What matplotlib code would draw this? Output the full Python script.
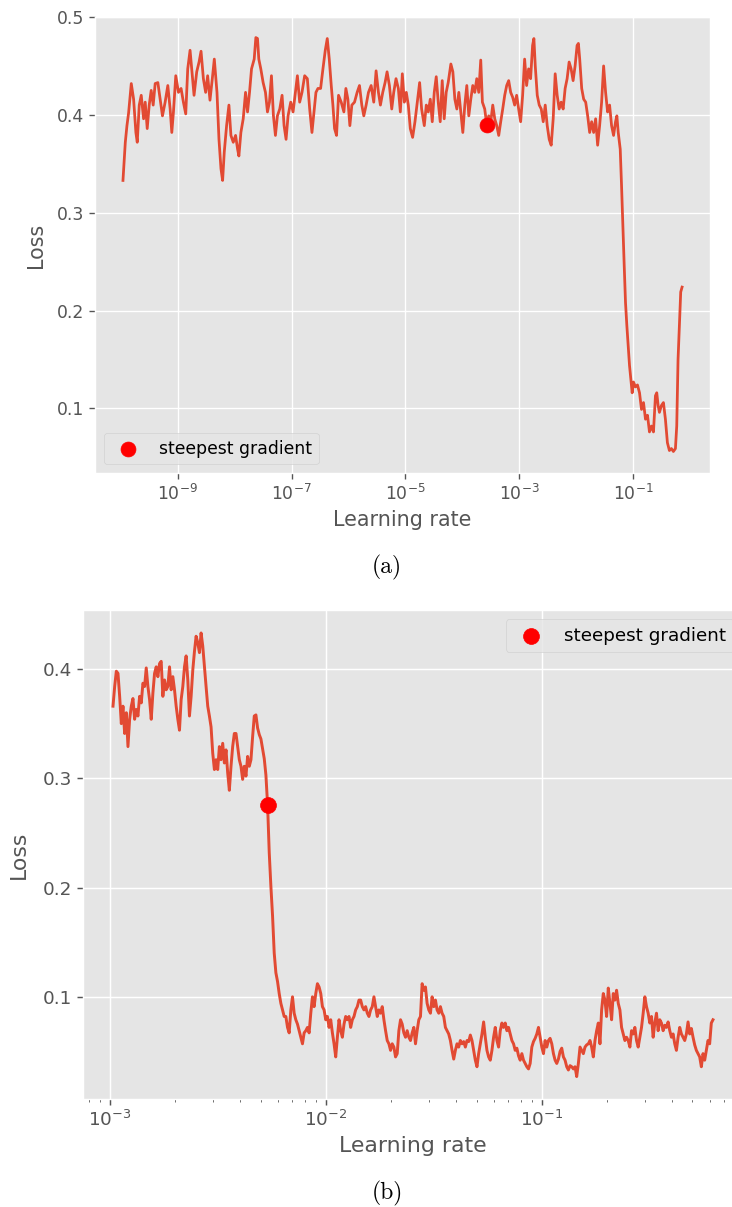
import numpy as np
import matplotlib.pyplot as plt
from matplotlib.ticker import NullLocator, MultipleLocator

plt.style.use('ggplot')

# --- run (a): wide sweep, log10(learning rate) and smoothed loss ---
log_lr_a = [
    -9.963, -9.922, -9.893, -9.864, -9.817, -9.776, -9.736, -9.712, -9.677, -9.642,
    -9.601, -9.572, -9.537, -9.502, -9.467, -9.432, -9.397, -9.350, -9.309, -9.269,
    -9.222, -9.175, -9.134, -9.105, -9.076, -9.035, -8.988, -8.942, -8.901, -8.860,
    -8.825, -8.784, -8.755, -8.714, -8.667, -8.626, -8.591, -8.550, -8.510, -8.475,
    -8.434, -8.393, -8.358, -8.311, -8.276, -8.241, -8.212, -8.183, -8.142, -8.101,
    -8.066, -8.025, -7.984, -7.949, -7.926, -7.891, -7.850, -7.809, -7.774, -7.739,
    -7.704, -7.657, -7.628, -7.599, -7.576, -7.541, -7.500, -7.459, -7.424, -7.389,
    -7.354, -7.319, -7.284, -7.249, -7.208, -7.167, -7.132, -7.097, -7.062, -7.015,
    -6.974, -6.933, -6.898, -6.858, -6.817, -6.770, -6.723, -6.682, -6.642, -6.607,
    -6.572, -6.537, -6.490, -6.449, -6.408, -6.373, -6.338, -6.303, -6.274, -6.245,
    -6.210, -6.175, -6.128, -6.081, -6.046, -6.011, -5.976, -5.941, -5.894, -5.848,
    -5.807, -5.766, -5.731, -5.690, -5.649, -5.602, -5.556, -5.515, -5.474, -5.439,
    -5.398, -5.357, -5.322, -5.281, -5.240, -5.205, -5.165, -5.124, -5.089, -5.054,
    -5.019, -4.984, -4.949, -4.914,
    -4.873, -4.832, -4.785, -4.750, -4.715, -4.668, -4.633, -4.598, -4.563, -4.528,
    -4.493, -4.458, -4.423, -4.388, -4.353, -4.318, -4.283, -4.248, -4.201, -4.166,
    -4.131, -4.096, -4.061, -4.026, -3.991, -3.956, -3.921, -3.886, -3.851, -3.816,
    -3.781, -3.746, -3.711, -3.676, -3.647, -3.606, -3.571, -3.536, -3.500, -3.465,
    -3.430, -3.395, -3.360, -3.325, -3.290, -3.255, -3.220, -3.185, -3.150, -3.115,
    -3.080, -3.045, -3.010, -2.975, -2.940, -2.905, -2.870, -2.835, -2.800, -2.765,
    -2.742, -2.718, -2.683, -2.648, -2.613, -2.578, -2.543, -2.508, -2.473, -2.438,
    -2.403, -2.368, -2.333, -2.298, -2.263, -2.228, -2.193, -2.158, -2.123, -2.088,
    -2.053, -2.018, -1.983, -1.960, -1.937, -1.902, -1.867, -1.832, -1.797, -1.762,
    -1.727, -1.692, -1.657, -1.622, -1.587, -1.552, -1.517, -1.482, -1.447, -1.412,
    -1.377, -1.342, -1.307, -1.284, -1.260, -1.225, -1.202, -1.179, -1.155, -1.132,
    -1.109, -1.085, -1.062, -1.039, -1.015, -0.992, -0.957, -0.922, -0.886, -0.851,
    -0.816, -0.781, -0.746, -0.711, -0.676, -0.641, -0.606, -0.583, -0.559, -0.536,
    -0.501, -0.466, -0.431, -0.396, -0.361, -0.326, -0.291, -0.255, -0.232, -0.209,
    -0.186, -0.162, -0.138,
]
loss_a = [
    0.333, 0.372, 0.389, 0.402, 0.432, 0.416, 0.382, 0.372, 0.410, 0.420,
    0.396, 0.413, 0.386, 0.410, 0.425, 0.410, 0.432, 0.433, 0.416, 0.399,
    0.413, 0.430, 0.406, 0.382, 0.403, 0.440, 0.423, 0.427, 0.413, 0.401,
    0.447, 0.466, 0.447, 0.420, 0.444, 0.454, 0.465, 0.437, 0.423, 0.440,
    0.415, 0.437, 0.457, 0.423, 0.375, 0.345, 0.333, 0.362, 0.389, 0.410,
    0.379, 0.372, 0.379, 0.365, 0.358, 0.382, 0.396, 0.423, 0.403, 0.423,
    0.447, 0.457, 0.479, 0.478, 0.457, 0.447, 0.433, 0.423, 0.403, 0.413,
    0.440, 0.399, 0.379, 0.399, 0.406, 0.420, 0.389, 0.375, 0.399, 0.413,
    0.403, 0.423, 0.440, 0.413, 0.423, 0.440, 0.437, 0.406, 0.382, 0.403,
    0.423, 0.427, 0.427, 0.447, 0.466, 0.478, 0.457, 0.430, 0.410, 0.386,
    0.379, 0.420, 0.413, 0.403, 0.427, 0.416, 0.389, 0.410, 0.413, 0.423,
    0.430, 0.410, 0.399, 0.410, 0.423, 0.430, 0.413, 0.445, 0.423, 0.410,
    0.423, 0.433, 0.444, 0.430, 0.406, 0.423, 0.437, 0.427, 0.403, 0.442,
    0.413, 0.423, 0.410, 0.386,
    0.377, 0.393, 0.416, 0.433, 0.406, 0.389, 0.410, 0.403, 0.416, 0.393,
    0.423, 0.439, 0.413, 0.393, 0.435, 0.396, 0.423, 0.433, 0.452, 0.444,
    0.416, 0.406, 0.423, 0.403, 0.382, 0.410, 0.430, 0.399, 0.416, 0.430,
    0.423, 0.437, 0.423, 0.456, 0.413, 0.406, 0.390, 0.399, 0.393, 0.410,
    0.396, 0.389, 0.379, 0.393, 0.406, 0.420, 0.430, 0.435, 0.423, 0.418,
    0.410, 0.420, 0.406, 0.393, 0.420, 0.457, 0.430, 0.447, 0.437, 0.471,
    0.478, 0.450, 0.420, 0.410, 0.406, 0.393, 0.410, 0.389, 0.375, 0.369,
    0.396, 0.442, 0.420, 0.406, 0.413, 0.406, 0.427, 0.437, 0.454, 0.447,
    0.435, 0.450, 0.471, 0.473, 0.457, 0.427, 0.416, 0.413, 0.399, 0.382,
    0.393, 0.382, 0.396, 0.369, 0.389, 0.413, 0.450, 0.423, 0.403, 0.410,
    0.389, 0.379, 0.393, 0.399, 0.382, 0.365, 0.328, 0.287, 0.246, 0.208,
    0.185, 0.164, 0.144, 0.130, 0.116, 0.127, 0.122, 0.124, 0.116, 0.099,
    0.106, 0.089, 0.093, 0.076, 0.082, 0.076, 0.113, 0.116, 0.103, 0.096,
    0.103, 0.106, 0.089, 0.065, 0.057, 0.059, 0.056, 0.059, 0.082, 0.150,
    0.185, 0.219, 0.224,
]
steep_log_lr_a = -3.571

# --- run (b): narrow sweep, geometric lr steps between these exponents ---
log_lr_b_range = (-2.985, -0.206)
loss_b = [
    0.366, 0.384, 0.398, 0.396, 0.375, 0.350, 0.366, 0.341, 0.360, 0.329,
    0.354, 0.366, 0.373, 0.354, 0.363, 0.357, 0.375, 0.369, 0.387, 0.384,
    0.401, 0.384, 0.372, 0.354, 0.378, 0.396, 0.402, 0.393, 0.405, 0.407,
    0.375, 0.390, 0.381, 0.384, 0.402, 0.381, 0.393, 0.381, 0.366, 0.354,
    0.344, 0.372, 0.384, 0.402, 0.412, 0.390, 0.357, 0.375, 0.399, 0.416,
    0.430, 0.424, 0.415, 0.433, 0.421, 0.402, 0.384, 0.366, 0.357, 0.347,
    0.323, 0.308, 0.317, 0.308, 0.329, 0.317, 0.332, 0.314, 0.326, 0.305,
    0.289, 0.311, 0.329, 0.341, 0.341, 0.329, 0.317, 0.311, 0.299, 0.311,
    0.302, 0.320, 0.311, 0.317, 0.338, 0.357,
    0.358, 0.346, 0.340, 0.336, 0.327, 0.318, 0.303, 0.276, 0.232, 0.201,
    0.174, 0.140, 0.122, 0.114,
    0.103, 0.094, 0.088, 0.082, 0.082, 0.072, 0.067, 0.088, 0.100, 0.085,
    0.079, 0.075, 0.069, 0.063, 0.057, 0.067, 0.069, 0.072, 0.067, 0.085,
    0.100, 0.091, 0.103, 0.112, 0.109, 0.103, 0.091, 0.088, 0.079, 0.082,
    0.072, 0.079, 0.067, 0.057, 0.045, 0.063, 0.079, 0.069, 0.063, 0.075,
    0.082, 0.079, 0.082, 0.072, 0.079, 0.082, 0.088, 0.091, 0.097, 0.097,
    0.091, 0.088, 0.091, 0.085, 0.082, 0.088, 0.091, 0.100, 0.091, 0.082,
    0.088, 0.085, 0.091, 0.079, 0.069, 0.060, 0.057, 0.051, 0.057, 0.054,
    0.045, 0.048, 0.069, 0.079, 0.075, 0.067, 0.063, 0.069, 0.063, 0.060,
    0.067, 0.072, 0.057, 0.069, 0.079,
    0.082, 0.112, 0.106, 0.109, 0.094, 0.088, 0.085, 0.100, 0.091, 0.097,
    0.088, 0.085, 0.091, 0.085, 0.082, 0.072, 0.069, 0.066, 0.060, 0.051,
    0.043, 0.051, 0.057, 0.054, 0.060, 0.057, 0.059, 0.054, 0.060, 0.059,
    0.065, 0.060, 0.051, 0.042, 0.036, 0.048, 0.057, 0.066, 0.077, 0.063,
    0.051, 0.045, 0.042, 0.051, 0.063, 0.072, 0.060, 0.054, 0.069, 0.076,
    0.072, 0.076, 0.069, 0.072, 0.066, 0.060, 0.057, 0.051, 0.053, 0.046,
    0.042, 0.048, 0.042, 0.039, 0.036, 0.034, 0.039, 0.054, 0.059, 0.062,
    0.066, 0.072, 0.063, 0.054, 0.048, 0.060, 0.054, 0.060, 0.062, 0.057,
    0.048, 0.042, 0.039, 0.043, 0.050, 0.053, 0.045, 0.042, 0.036, 0.033,
    0.037, 0.036, 0.034, 0.036, 0.027, 0.039, 0.054, 0.051, 0.048, 0.054,
    0.056, 0.057, 0.060, 0.054, 0.045, 0.060, 0.069, 0.076, 0.057, 0.088,
    0.103, 0.097, 0.082, 0.108, 0.094, 0.079, 0.103, 0.097, 0.106, 0.094,
    0.088, 0.072, 0.066, 0.060, 0.063, 0.060, 0.054, 0.069, 0.066, 0.072,
    0.060, 0.054, 0.063, 0.072, 0.085, 0.100, 0.091, 0.085, 0.076, 0.082,
    0.063, 0.076, 0.085, 0.069, 0.079, 0.076, 0.069, 0.074, 0.072, 0.077,
    0.069, 0.063, 0.066, 0.057, 0.051, 0.063, 0.072, 0.066, 0.063, 0.060,
    0.066, 0.077, 0.066, 0.071, 0.063, 0.056, 0.051, 0.048, 0.045, 0.036,
    0.048, 0.042, 0.051, 0.060, 0.057, 0.076, 0.079,
]
steep_idx_b = 93


def plot_lr_find(ax, lrs, losses, idx, scale, legend_loc, ypad):
    # the two panels were exported at slightly different sizes, so
    # every size is multiplied by `scale`
    ax.plot(lrs, losses, lw=1.6 * scale)
    ax.scatter(lrs[idx], losses[idx], s=75 * scale ** 2, marker='o',
               color='red', zorder=3, label='steepest gradient')
    ax.set_xscale('log')
    ax.set_xlabel('Learning rate', fontsize=12 * scale)
    ax.set_ylabel('Loss', fontsize=12 * scale, labelpad=ypad)
    ax.tick_params(labelsize=10 * scale, length=3.5 * scale, width=0.8 * scale)
    ax.yaxis.set_major_locator(MultipleLocator(0.1))
    ax.grid(True, lw=0.8 * scale)
    ax.legend(loc=legend_loc, fontsize=10 * scale)


fig = plt.figure(figsize=(7.32, 12.07), dpi=100)

lr_a = 10 ** np.array(log_lr_a)
ax_a = fig.add_axes([0.1298, 0.6081, 0.8402, 0.3778])
plot_lr_find(ax_a, lr_a, np.array(loss_a), log_lr_a.index(steep_log_lr_a),
             1.24, 'lower left', 8)
ax_a.xaxis.set_minor_locator(NullLocator())
ax_a.set_ylim(0.034, 0.5)

lr_b = np.logspace(log_lr_b_range[0], log_lr_b_range[1], len(loss_b))
ax_b = fig.add_axes([0.1134, 0.0895, 0.9016, 0.4051])
plot_lr_find(ax_b, lr_b, np.array(loss_b), steep_idx_b, 1.32, 'upper right', 10)
ax_b.set_ylim(0.0065, 0.454)

fig.text(387 / 732, 1 - 567 / 1207, '(a)', ha='center', va='center',
         fontsize=17, family='cmr10')
fig.text(387 / 732, 1 - 1193 / 1207, '(b)', ha='center', va='center',
         fontsize=17, family='cmr10')

fig.savefig('out.png', dpi=100)
